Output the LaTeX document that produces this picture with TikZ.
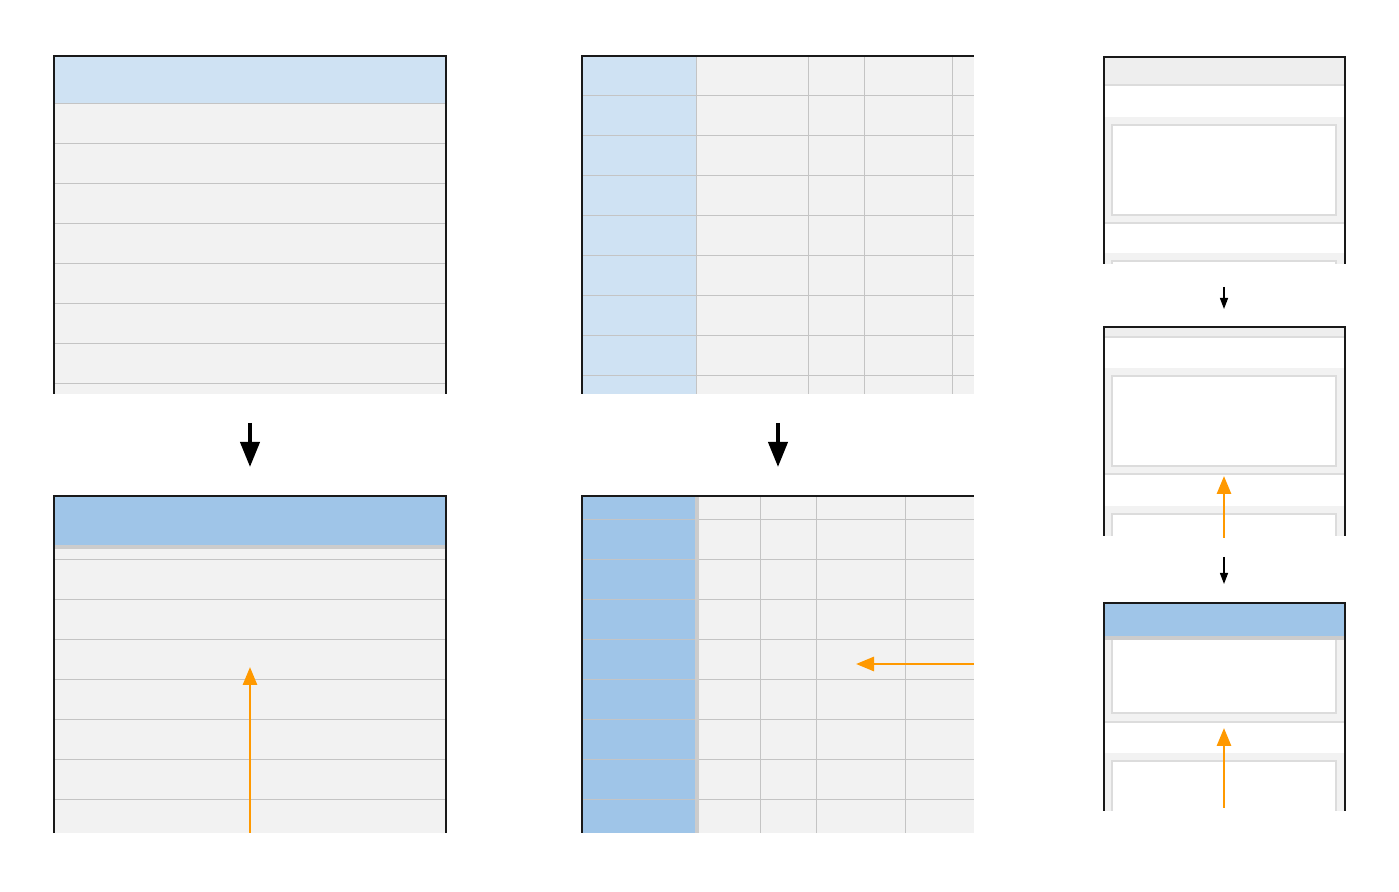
\documentclass[tikz,border=0pt]{standalone}
\usepackage{xcolor}
\usetikzlibrary{arrows.meta}

\definecolor{paleblue}{HTML}{CFE2F3}
\definecolor{pickblue}{HTML}{9FC5E8}
\definecolor{rowgrey}{HTML}{F2F2F2}
\definecolor{headgrey}{HTML}{EEEEEE}
\definecolor{gridgrey}{HTML}{C4C4C4}
\definecolor{shadegrey}{HTML}{CCCCCC}
\definecolor{boxgrey}{HTML}{DCDCDC}
\definecolor{scrollorange}{HTML}{FF9900}

\tikzset{
  rowline/.style={draw=gridgrey, line width=0.5pt},
  cardline/.style={draw=boxgrey, line width=0.6pt},
  cardbox/.style={draw=boxgrey, fill=white, line width=0.6pt},
  frame/.style={draw=black!90, line width=1pt},
  bigarrow/.style={-{Triangle[length=12.5pt,width=9.5pt]}, line width=2pt},
  smallarrow/.style={-{Triangle[length=5.5pt,width=4pt]}, line width=0.7pt},
  scrollarrow/.style={-{Triangle[length=9pt,width=7pt]}, line width=1.4pt, draw=scrollorange, fill=scrollorange}
}

\begin{document}
\begin{tikzpicture}[x=0.5pt, y=-0.5pt]
  \useasboundingbox (0,0) rectangle (1399,892);

  % table with header, before
  \fill[rowgrey] (54,56) rectangle (446,394);
  \fill[paleblue] (54,56) rectangle (446,104);
  \foreach \y in {104,144,...,384}
    \draw[rowline] (54,\y) -- (446,\y);
  \draw[frame] (54,394) -- (54,56) -- (446,56) -- (446,394);

  % table with header, scrolled (header stays)
  \fill[rowgrey] (54,496) rectangle (446,833);
  \foreach \y in {560,600,...,800}
    \draw[rowline] (54,\y) -- (446,\y);
  \fill[pickblue] (54,496) rectangle (446,545);
  \fill[shadegrey] (54,545) rectangle (446,549);
  \draw[frame] (54,833) -- (54,496) -- (446,496) -- (446,833);

  % table with first column, before
  \fill[rowgrey] (582,56) rectangle (974,394);
  \fill[paleblue] (582,56) rectangle (696,394);
  \foreach \y in {96,136,...,376}
    \draw[rowline] (582,\y) -- (974,\y);
  \foreach \x in {696,808,864,952}
    \draw[rowline] (\x,56) -- (\x,394);
  \draw[frame] (582,394) -- (582,56) -- (974,56);

  % table with first column, scrolled sideways
  \fill[rowgrey] (582,496) rectangle (974,833);
  \fill[pickblue] (582,496) rectangle (695,833);
  \foreach \y in {520,560,...,800}
    \draw[rowline] (582,\y) -- (974,\y);
  \foreach \x in {760,816,905}
    \draw[rowline] (\x,496) -- (\x,833);
  \fill[shadegrey] (695,496) rectangle (699,833);
  \draw[frame] (582,833) -- (582,496) -- (974,496);

  % card list, first state
  \begin{scope}
    \clip (1104,57) rectangle (1345,264);
    \fill[headgrey] (1104,57) rectangle (1345,85);
    \draw[cardline] (1104,85) -- (1345,85);
    \fill[rowgrey] (1104,117) rectangle (1345,223);
    \draw[cardbox] (1112,125) rectangle (1336,215);
    \draw[cardline] (1104,223) -- (1345,223);
    \fill[rowgrey] (1104,253) rectangle (1345,300);
    \draw[cardbox] (1112,261) rectangle (1336,340);
  \end{scope}
  \draw[frame] (1104,264) -- (1104,57) -- (1345,57) -- (1345,264);

  % card list, second state
  \begin{scope}
    \clip (1104,327) rectangle (1345,536);
    \fill[headgrey] (1104,327) rectangle (1345,337);
    \draw[cardline] (1104,337) -- (1345,337);
    \fill[rowgrey] (1104,368) rectangle (1345,474);
    \draw[cardbox] (1112,376) rectangle (1336,466);
    \draw[cardline] (1104,474) -- (1345,474);
    \fill[rowgrey] (1104,506) rectangle (1345,560);
    \draw[cardbox] (1112,514) rectangle (1336,600);
  \end{scope}
  \draw[frame] (1104,536) -- (1104,327) -- (1345,327) -- (1345,536);

  % card list, third state (header stuck)
  \begin{scope}
    \clip (1104,603) rectangle (1345,811);
    \fill[rowgrey] (1104,604) rectangle (1345,722);
    \draw[cardbox] (1112,600) rectangle (1336,713);
    \draw[cardline] (1104,722) -- (1345,722);
    \fill[rowgrey] (1104,753) rectangle (1345,840);
    \draw[cardbox] (1112,761) rectangle (1336,860);
    \fill[pickblue] (1104,604) rectangle (1345,636);
    \fill[shadegrey] (1104,636) rectangle (1345,640);
  \end{scope}
  \draw[frame] (1104,811) -- (1104,603) -- (1345,603) -- (1345,811);

  % state arrows
  \coordinate (stepAtop) at (250,423);
  \coordinate (stepAend) at (250,467);
  \coordinate (stepBtop) at (778,423);
  \coordinate (stepBend) at (778,467);
  \coordinate (stepCtop) at (1224,287);
  \coordinate (stepCend) at (1224,309);
  \coordinate (stepDtop) at (1224,557);
  \coordinate (stepDend) at (1224,584);
  \draw[bigarrow] (stepAtop) -- (stepAend);
  \draw[bigarrow] (stepBtop) -- (stepBend);
  \draw[smallarrow] (stepCtop) -- (stepCend);
  \draw[smallarrow] (stepDtop) -- (stepDend);

  % scroll directions
  \coordinate (scrollAfrom) at (250,833);
  \coordinate (scrollAto) at (250,667);
  \coordinate (scrollBfrom) at (974,664);
  \coordinate (scrollBto) at (856,664);
  \coordinate (scrollCfrom) at (1224,538);
  \coordinate (scrollCto) at (1224,476);
  \coordinate (scrollDfrom) at (1224,808);
  \coordinate (scrollDto) at (1224,728);
  \draw[scrollarrow] (scrollAfrom) -- (scrollAto);
  \draw[scrollarrow] (scrollBfrom) -- (scrollBto);
  \draw[scrollarrow] (scrollCfrom) -- (scrollCto);
  \draw[scrollarrow] (scrollDfrom) -- (scrollDto);
\end{tikzpicture}
\end{document}
